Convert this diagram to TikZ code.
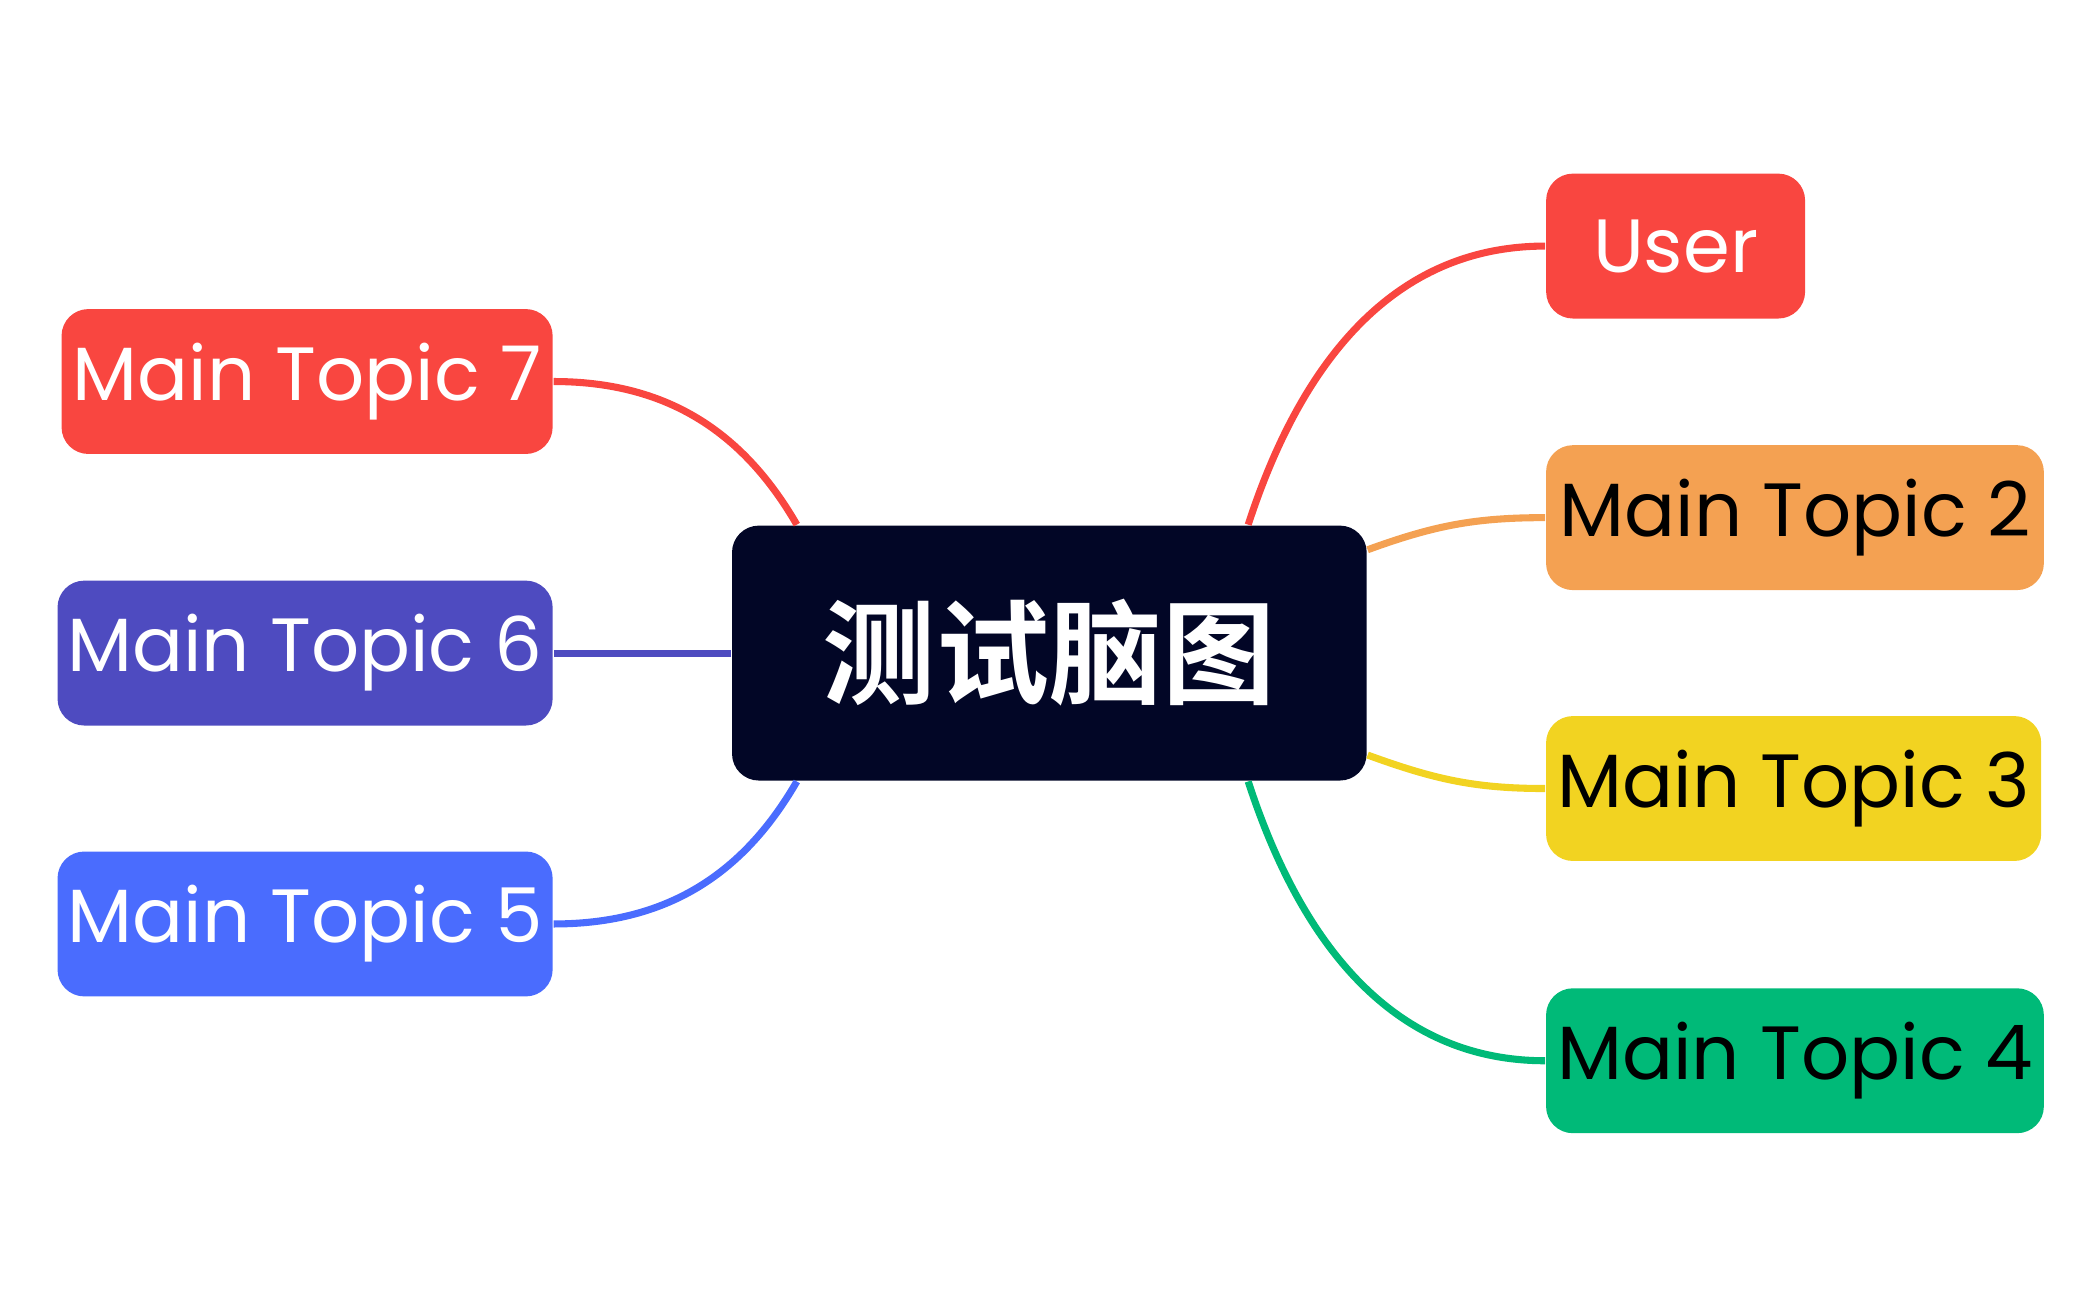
\documentclass[tikz,border=0pt]{standalone}
\usepackage{fontspec}
\setmainfont{Poppins}
\newfontfamily\cjk{Noto Sans CJK SC}[BoldFont=* Bold]
\usetikzlibrary{calc}
\definecolor{rootbg}{HTML}{020626}
\definecolor{tred}{HTML}{F94640}
\definecolor{torange}{HTML}{F4A152}
\definecolor{tyellow}{HTML}{F2D321}
\definecolor{tgreen}{HTML}{00BA78}
\definecolor{tpurple}{HTML}{4E4BC0}
\definecolor{tblue}{HTML}{4A6CFE}
\tikzset{
    topic/.style = {rounded corners=0.2cm, minimum height=1.08cm, inner sep=0pt,
        font=\fontsize{16}{18}\selectfont},
    link/.style = {line width=1.5pt},
}
\begin{document}
\begin{tikzpicture}[x=0.01cm,y=-0.01cm]
\useasboundingbox (0,0) rectangle (1560,970);

\node[topic, fill=rootbg, minimum width=4.73cm, minimum height=1.9cm, text=white,
      font=\cjk\bfseries\fontsize{24}{26}\selectfont] (root) at (782.5,487) {测试脑图};

\node[topic, fill=tred, text=white, minimum width=1.93cm] (user) at (1249.5,183.5) {User};
\node[topic, fill=torange, minimum width=3.71cm] (t2) at (1338.5,386) {Main Topic 2};
\node[topic, fill=tyellow, minimum width=3.69cm] (t3) at (1337.5,588) {Main Topic 3};
\node[topic, fill=tgreen, minimum width=3.71cm] (t4) at (1338.5,791) {Main Topic 4};
\node[topic, fill=tred, text=white, minimum width=3.66cm] (t7) at (229,284.5) {Main Topic 7};
\node[topic, fill=tpurple, text=white, minimum width=3.69cm] (t6) at (227.5,487) {Main Topic 6};
\node[topic, fill=tblue, text=white, minimum width=3.69cm] (t5) at (227.5,689) {Main Topic 5};

\coordinate (rne) at ($(root.north east)+(-0.89cm,0)$);
\coordinate (rse) at ($(root.south east)+(-0.89cm,0)$);
\coordinate (rnw) at ($(root.north west)+(0.49cm,0)$);
\coordinate (rsw) at ($(root.south west)+(0.49cm,0)$);

\draw[link, tred] (rne) to[out=72,in=180] (user.west);
\draw[link, torange] ($(root.east)+(0,0.77cm)$) to[out=20,in=180] (t2.west);
\draw[link, tyellow] ($(root.east)+(0,-0.76cm)$) to[out=-20,in=180] (t3.west);
\draw[link, tgreen] (rse) to[out=-72,in=180] (t4.west);
\draw[link, tred] (rnw) to[out=120,in=0] (t7.east);
\draw[link, tpurple] (root.west) -- (t6.east);
\draw[link, tblue] (rsw) to[out=-120,in=0] (t5.east);
\end{tikzpicture}
\end{document}
